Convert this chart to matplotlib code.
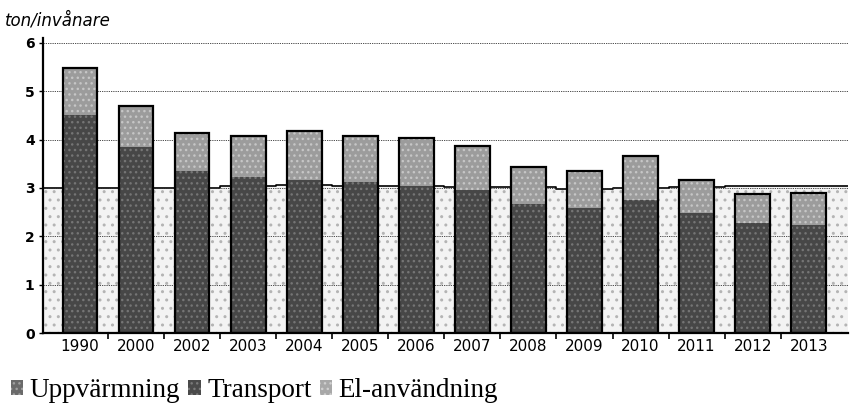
import numpy as np
import matplotlib.pyplot as plt
from matplotlib.patches import Patch

# data (ton per invanare)
years = ['1990', '2000', '2002', '2003', '2004', '2005', '2006',
         '2007', '2008', '2009', '2010', '2011', '2012', '2013']
uppvarmning = [3.00, 3.00, 3.00, 3.03, 3.06, 3.05, 3.03,
               3.01, 3.02, 2.98, 3.00, 3.02, 3.04, 3.05]
transport = [4.50, 3.84, 3.34, 3.23, 3.17, 3.12, 3.04,
             2.95, 2.67, 2.59, 2.75, 2.49, 2.28, 2.23]
el = [0.98, 0.86, 0.79, 0.85, 1.00, 0.96, 0.99,
      0.92, 0.76, 0.76, 0.92, 0.68, 0.60, 0.67]

light_col = '#f3f3f3'
dark_col = '#474747'
el_col = '#9c9c9c'

fig = plt.figure(figsize=(8.5, 4.08), dpi=100)
ax = fig.add_axes([0.0506, 0.1838, 0.947, 0.723])

n = len(years)
x = np.arange(n)
xmin, xmax = -0.66, 13.7

# light area behind the bars, stepped per category
edges = np.append(x - 0.5, xmax)
edges[0] = xmin
vals = np.append(uppvarmning, uppvarmning[-1])
ax.fill_between(edges, 0, vals, step='post', facecolor=light_col,
                hatch='..', edgecolor='#b4b4b4', linewidth=0, zorder=0.5)
ax.step(edges, vals, where='post', color='black', lw=1.2, zorder=0.6)

# grid
for g in range(1, 7):
    ax.axhline(g, color='#333333', lw=0.6, ls=(0, (1.5, 1.2)), zorder=1)

# bars
w = 0.62
tot = np.array(transport) + np.array(el)
ax.bar(x, transport, w, color=dark_col, hatch='...', edgecolor='#757575',
       linewidth=0, zorder=2)
ax.bar(x, el, w, bottom=transport, color=el_col, hatch='...',
       edgecolor='#c6c6c6', linewidth=0, zorder=2)
ax.bar(x, tot, w, fill=False, edgecolor='black', linewidth=1.6, zorder=3)

ax.set_xlim(xmin, xmax)
ax.set_ylim(0, 6.1)
ax.set_yticks(range(0, 7))
ax.set_yticklabels([str(v) for v in range(0, 7)], fontsize=10,
                   fontweight='bold')
ax.set_xticks(x)
ax.set_xticklabels(years, fontsize=11)
ax.set_xticks(x[1:] - 0.5, minor=True)
ax.tick_params(axis='x', which='major', length=0, pad=4)
ax.tick_params(axis='x', which='minor', length=4, width=1.2)
ax.tick_params(axis='y', length=3, width=1, pad=3)

for s in ['top', 'right']:
    ax.spines[s].set_visible(False)
ax.spines['left'].set_linewidth(1.6)
ax.spines['bottom'].set_linewidth(1.6)
ax.spines['bottom'].set_zorder(4)

fig.text(0.006, 0.928, 'ton/invånare', fontsize=12, style='italic',
         ha='left', va='bottom')

handles = [Patch(facecolor='#6a6a6a', hatch='...', edgecolor='#a0a0a0', lw=0),
           Patch(facecolor='#4a4a4a', hatch='...', edgecolor='#7a7a7a', lw=0),
           Patch(facecolor='#a8a8a8', hatch='...', edgecolor='#d0d0d0', lw=0)]
fig.legend(handles, ['Uppvärmning', 'Transport', 'El-användning'],
           loc='lower left', bbox_to_anchor=(-0.016, -0.048), ncol=3,
           frameon=False, handlelength=0.45, handleheight=0.45,
           handletextpad=0.25, columnspacing=0.3,
           prop={'family': 'Liberation Serif', 'size': 19.5})

fig.savefig('out.png', dpi=100)
